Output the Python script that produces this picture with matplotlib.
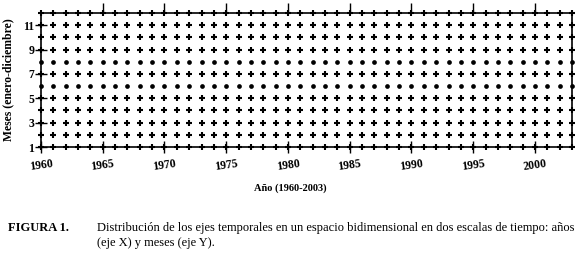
import matplotlib
matplotlib.use("Agg")
import matplotlib.pyplot as plt

years = list(range(1960, 2004))
months = list(range(1, 13))
dot_months = [6, 8]
xticks = [1960, 1965, 1970, 1975, 1980, 1985, 1990, 1995, 2000]
yticks = [1, 3, 5, 7, 9, 11]

serif = ['Liberation Serif', 'DejaVu Serif']
fig = plt.figure(figsize=(5.79, 2.57), dpi=100)
ax = fig.add_axes([41/579, 1 - 147/257, 531/579, 134/257])

for m in months:
    xs = years
    ys = [m] * len(years)
    if m in dot_months:
        ax.plot(xs, ys, 'o', color='black', ms=3.4, mew=0, clip_on=False, zorder=3)
    else:
        ax.plot(xs, ys, '+', color='black', ms=4.2, mew=1.5, clip_on=False, zorder=3)

ax.set_xlim(1960, 2003)
ax.set_ylim(1, 12)
for s in ax.spines.values():
    s.set_linewidth(1.2)

ax.set_xticks(xticks)
ax.set_xticklabels([str(x) for x in xticks], fontfamily=serif, fontweight='bold',
                   fontsize=8.5, rotation=8)
ax.set_yticks(yticks)
ax.set_yticklabels([str(y) for y in yticks], fontfamily=serif, fontweight='bold', fontsize=8.5)
ax.tick_params(axis='x', direction='inout', length=8, width=1, pad=4, top=False)
ax.tick_params(axis='y', direction='inout', length=8, width=1, pad=1)

# top ticks (outward)
sec = ax.secondary_xaxis('top')
sec.set_xticks(xticks[1:])
sec.set_xticklabels([])
sec.tick_params(direction='out', length=7, width=1)
sec.spines['top'].set_visible(False)

ax.set_ylabel('Meses (enero-diciembre)', fontfamily=serif, fontweight='bold', fontsize=8.5, labelpad=6)
fig.text(290/579, 1 - 188/257, 'Año (1960-2003)', fontfamily=serif, fontweight='bold',
         fontsize=7.5, ha='center', va='center')

fig.text(8/579, 1 - 228/257, 'FIGURA 1.', fontfamily=serif, fontweight='bold',
         fontsize=9, ha='left', va='center')
fig.text(97/579, 1 - 228/257,
         'Distribución de los ejes temporales en un espacio bidimensional en dos escalas de tiempo: años',
         fontfamily=serif, fontsize=9, ha='left', va='center')
fig.text(97/579, 1 - 243/257, '(eje X) y meses (eje Y).',
         fontfamily=serif, fontsize=9, ha='left', va='center')

fig.savefig('out.png', dpi=100)
